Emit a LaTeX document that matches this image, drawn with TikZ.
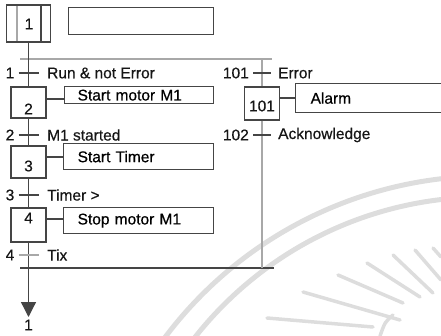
\documentclass[tikz,border=0pt]{standalone}
\usepackage{fontspec}
\setmainfont{Liberation Sans}[FakeBold=0.5]
\usetikzlibrary{arrows.meta}
\definecolor{ln}{HTML}{454545}
\definecolor{lt}{HTML}{A8A8A8}
\definecolor{wm}{HTML}{DDDDDD}
\definecolor{tx}{HTML}{161616}
\begin{document}
\begin{tikzpicture}[x=1pt,y=-1pt,
  font=\fontsize{15.5}{18}\selectfont,
  box/.style={draw=ln,line width=1.3pt,inner sep=0pt,fill=white},
  stepbox/.style={box,minimum width=35pt},
  actbox/.style={box,anchor=north west,align=left,inner ysep=0pt},
  lbl/.style={inner sep=0pt,text=tx},
  wire/.style={draw=ln,line width=1.3pt},
  wmark/.style={draw=wm,line width=5pt},
  ray/.style={draw=wm,line width=3.5pt,line cap=round}]
\useasboundingbox (0,0) rectangle (441,336);
\clip (0,0) rectangle (441,336);
% watermark
\draw[wmark] plot[domain=-94:-150,samples=80] ({488+404*cos(\x)},{580+404*sin(\x)});
\draw[wmark] plot[domain=-94:-150,samples=80] ({484+368*cos(\x)},{565+368*sin(\x)});
\draw[ray] (267,318) -- (373,327);
\draw[ray] (303,292) -- (400,320);
\draw[ray] (338,275) -- (403,303);
\draw[ray] (367,263) -- (420,297);
\draw[ray] (393,255) -- (433,293);
\draw[ray] (415,250) -- (441,280);
\draw[ray] (433,248) -- (441,257);
\draw[ray] (393,315) .. controls (385,322) .. (380,336);
% coordinates
\coordinate (d1) at (262,59);
\coordinate (c1) at (262,268);
\coordinate (end) at (28.5,317);
% lines of divergence / convergence
\draw[draw=lt,line width=1.3pt] (20,59) -- (272,59);
\draw[wire] (20,268) -- (274,268);
% step 1
\node[box,minimum width=44pt,minimum height=37pt] (s1) at (28.5,23.5) {};
\draw[draw=lt,line width=1.2pt] (17,6) -- (17,41);
\draw[wire] (41,6) -- (41,41);
\node[lbl] (n1) at (29,24) {1};
\node[actbox,minimum width=145pt,minimum height=27pt] (a1) at (68,7) {};
% steps
\node[stepbox,minimum height=31pt] (s2) at (28.5,102.5) {};
\node[stepbox,minimum height=32pt] (s3) at (28.5,162) {};
\node[stepbox,minimum height=34pt] (s4) at (28.5,225) {};
\node[stepbox,minimum height=33pt] (s101) at (262,103.5) {};
\node[lbl] (n2) at (28.5,109) {2};
\node[lbl] (n3) at (28.5,166) {3};
\node[lbl] (n4) at (28.5,218) {4};
\node[lbl] (n101) at (262,106) {101};
% actions
\node[actbox,minimum height=17pt,inner xsep=13pt,text width=123pt] (a2) at (64,86) {Start motor M1};
\node[actbox,minimum height=26pt,inner xsep=14pt,text width=122pt] (a3) at (63,143) {Start Timer};
\node[actbox,minimum height=26pt,inner xsep=14pt,text width=122pt] (a4) at (63,207) {Stop motor M1};
\node[actbox,minimum height=29pt,inner xsep=15pt,text width=140pt] (a101) at (295,83) {Alarm};
% step-action links
\draw[wire] (s2.east |- 0,99) -- (a2.west |- 0,99);
\draw[wire] (s3.east |- 0,157) -- (a3.west |- 0,157);
\draw[wire] (s4.east |- 0,219) -- (a4.west |- 0,219);
\draw[wire] (s101.east |- 0,98) -- (a101.west |- 0,98);
% main sequence
\draw[wire] (s1) -- (s2);
\draw[wire] (s2) -- (s3);
\draw[wire] (s3) -- (s4);
\draw[wire,-{Triangle[width=15pt,length=15pt]}] (s4) -- (end);
\draw[draw=lt,line width=1.3pt] (d1) -- (s101);
\draw[draw=lt,line width=1.3pt] (s101) -- (c1);
% transitions, left
\draw[wire] (18.5,73) -- (38.5,73);
\draw[wire] (18.5,135) -- (38.5,135);
\draw[wire] (18.5,195) -- (38.5,195);
\draw[draw=lt,line width=1.2pt] (18.5,255) -- (38.5,255);
\node[lbl,anchor=east] (tn1) at (14.5,73) {1};
\node[lbl,anchor=east] (tn2) at (14.5,135) {2};
\node[lbl,anchor=east] (tn3) at (14.5,195) {3};
\node[lbl,anchor=east] (tn4) at (14.5,255) {4};
\node[lbl,anchor=west] (tt1) at (47,73) {Run \& not Error};
\node[lbl,anchor=west] (tt2) at (47,135) {M1 started};
\node[lbl,anchor=west] (tt3) at (47,195) {Timer >};
\node[lbl,anchor=west] (tt4) at (47,255) {Tix};
% transitions, right
\draw[wire] (253,73) -- (271,73);
\draw[wire] (253,135) -- (271,135);
\node[lbl,anchor=east] (tn101) at (249,73) {101};
\node[lbl,anchor=east] (tn102) at (249,135) {102};
\node[lbl,anchor=west] (tt101) at (278,73) {Error};
\node[lbl,anchor=west] (tt102) at (278,135) {Acknowledge};
% return label
\node[lbl] (ret) at (28.5,325) {1};
\end{tikzpicture}
\end{document}
